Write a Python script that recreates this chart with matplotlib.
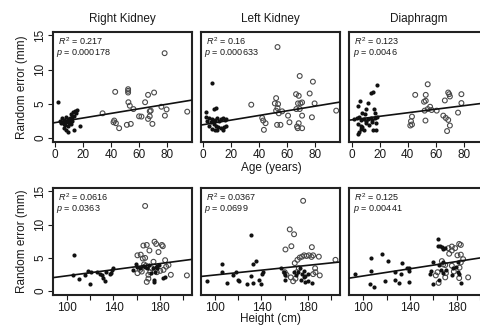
import matplotlib
matplotlib.use("Agg")
import matplotlib.pyplot as plt
import numpy as np

plt.rcParams['font.family'] = ['Liberation Sans', 'DejaVu Sans']
plt.rcParams['mathtext.fontset'] = 'custom'
plt.rcParams['mathtext.it'] = 'Liberation Sans:italic'
plt.rcParams['mathtext.rm'] = 'Liberation Sans'

titles = ["Right Kidney", "Left Kidney", "Diaphragm"]
r2_labels = ["0.217", "0.16", "0.123", "0.0616", "0.0367", "0.125"]
p_labels = ["0.000178", "0.000633", "0.0046", "0.0363", "0.0699", "0.00441"]
line_intercepts = [2.24, 1.93, 2.64, -0.01, 0.59, -0.43]
line_slopes = [0.0338, 0.034, 0.026, 0.023, 0.0182, 0.0270]

# ---- Age panels: children (filled) and adults (open) ----
rk_age_child = [2.4, 3.8, 5.0, 5.7, 6.6, 7.1, 7.8, 8.5, 9.0, 9.5, 10.2, 10.9, 11.3, 12.1, 12.5,
                13.7, 14.2, 14.9, 15.6, 9.0, 13.7, 18.0, 6.1, 7.6, 4.5, 6.0, 8.0, 10.0, 11.0, 12.0]
rk_err_child = [5.2, 2.54, 2.92, 2.29, 2.63, 1.96, 3.12, 2.44, 1.67, 2.78, 2.15, 2.92, 3.5, 2.54, 3.74,
                3.26, 3.99, 3.6, 4.1, 0.85, 1.09, 1.81, 1.47, 1.09, 2.2, 2.0, 2.3, 2.5, 2.0, 3.0]
rk_age_adult = [33.8, 42.8, 42.1, 41.6, 43.3, 45.6, 52.0, 52.0, 52.0, 52.2, 53.2, 51.1, 53.9, 59.8, 61.5,
                55.8, 64.1, 66.2, 70.5, 67.4, 68.1, 66.2, 67.4, 69.3, 75.7, 79.4, 78.2, 78.0, 94.1]
rk_err_adult = [3.6, 6.74, 2.54, 2.29, 2.15, 1.42, 7.13, 6.89, 6.64, 5.22, 4.71, 1.91, 2.05, 3.16, 3.12,
                4.22, 5.22, 6.3, 6.64, 3.89, 3.99, 2.78, 3.16, 2.05, 4.56, 4.17, 3.26, 12.4, 3.84]

lk_age_child = [6.6, 2.4, 7.8, 9.5, 1.9, 4.3, 6.1, 7.1, 8.5, 10.2, 11.3, 12.5, 14.2, 15.6, 16.5, 5.4,
                7.8, 9.0, 10.9, 12.5, 14.9, 16.5, 6.6, 8.5, 10.2, 14.2, 4.3, 3.1]
lk_err_child = [8.1, 3.74, 4.22, 4.37, 3.12, 2.92, 2.78, 2.54, 2.63, 2.92, 2.54, 2.78, 2.92, 2.63, 2.78, 2.29,
                2.05, 1.81, 1.57, 1.47, 1.57, 1.81, 1.33, 1.09, 1.18, 1.18, 1.81, 2.54]
lk_age_adult = [53.0, 34.3, 42.1, 42.8, 44.5, 43.3, 52.0, 53.0, 53.4, 52.0, 51.1, 53.9, 52.7, 55.1, 56.3,
                60.5, 61.5, 66.2, 68.1, 68.8, 67.6, 66.4, 69.3, 70.5, 68.1, 66.9, 67.4, 70.5, 70.5,
                68.8, 75.9, 78.2, 79.4, 77.5, 94.8]
lk_err_adult = [13.3, 4.86, 2.92, 2.54, 2.15, 1.18, 3.99, 4.37, 4.95, 5.82, 5.05, 3.6, 1.91, 1.91, 3.89,
                3.26, 2.29, 6.4, 6.16, 9.06, 5.05, 4.22, 5.05, 5.19, 2.15, 1.67, 1.42, 1.42, 3.26,
                4.22, 6.5, 8.23, 5.05, 3.02, 3.99]

di_age_child = [17.8, 13.6, 15.5, 6.1, 4.2, 11.7, 10.1, 7.7, 9.4, 16.0, 16.4, 1.9, 3.8, 5.4, 7.0, 8.5,
                10.1, 11.7, 13.6, 14.8, 16.4, 17.8, 4.2, 6.6, 10.1, 12.5, 14.8, 17.1, 6.6, 7.7, 5.4,
                9.0, 15.5, 17.1, 4.2]
di_err_child = [7.7, 6.64, 6.74, 5.43, 4.71, 5.05, 4.22, 3.6, 3.5, 4.22, 3.6, 2.78, 2.92, 3.12, 2.63, 2.78,
                2.54, 2.78, 2.92, 2.63, 2.92, 3.12, 2.05, 1.81, 2.15, 1.96, 2.29, 2.15, 1.33, 1.57, 0.85,
                1.09, 1.09, 1.09, 0.61]
di_age_adult = [54.2, 45.3, 52.8, 52.8, 51.6, 43.0, 42.3, 41.8, 43.0, 52.6, 52.0, 54.2, 55.9, 57.0, 60.6,
                66.4, 68.8, 70.0, 69.5, 78.2, 78.2, 75.8, 65.3, 67.1, 68.8, 70.0, 68.0]
di_err_adult = [7.85, 6.3, 6.3, 5.43, 5.29, 3.12, 2.44, 1.81, 1.96, 2.54, 3.99, 4.22, 4.56, 4.08, 3.99,
                5.48, 6.64, 6.06, 6.4, 6.4, 5.1, 3.7, 3.26, 2.92, 2.63, 1.81, 1.0]

# ---- Height panels ----
rk_ht_child = [106.3, 105.1, 110.0, 115.7, 117.7, 120.6, 120.0, 125.7, 128.0, 130.0, 131.4, 132.3, 133.7,
               136.6, 137.8, 139.5, 138.6, 157.2, 159.5, 160.6, 162.9, 165.2, 167.2, 168.6, 170.9,
               172.1, 174.4, 175.8, 176.7, 177.8, 178.7, 177.3, 182.9, 184.4, 175.0, 175.0]
rk_herr_child = [5.37, 2.35, 1.86, 2.44, 3.03, 2.83, 1.08, 2.83, 2.54, 2.35, 1.95, 1.47, 2.83,
                 2.54, 2.69, 3.52, 3.18, 3.18, 4.0, 3.66, 3.42, 3.81, 3.66, 3.42, 3.91,
                 2.69, 3.52, 2.83, 3.66, 3.81, 3.91, 3.42, 1.95, 2.05, 1.37, 1.71]
rk_ht_adult = [167.2, 165.7, 168.6, 163.4, 160.6, 175.3, 176.7, 181.6, 182.4, 178.7, 170.9, 165.2, 184.4,
               185.3, 189.3, 203.1, 160.6, 162.9, 164.3, 170.0, 171.5, 168.0, 166.3, 172.9, 177.3,
               180.2, 183.0, 174.4, 168.6, 170.0, 187.3, 167.2]
rk_herr_adult = [12.8, 6.84, 6.93, 5.47, 5.37, 7.42, 7.08, 6.93, 6.74, 5.86, 6.1, 4.89, 4.64,
                 3.66, 2.44, 2.35, 2.69, 3.18, 2.93, 2.44, 2.83, 3.81, 4.0, 3.42, 2.83,
                 3.03, 3.18, 4.4, 1.37, 1.86, 3.91, 4.98]

lk_ht_child = [92.8, 106.3, 105.7, 110.0, 115.7, 117.7, 119.4, 120.6, 127.4, 131.1, 133.1, 133.1, 135.1,
               137.8, 139.5, 140.1, 141.5, 130.6, 156.6, 159.5, 160.6, 160.6, 168.0, 170.0, 171.5,
               174.4, 175.0, 176.7, 177.3, 177.8, 179.6, 180.2, 183.0, 172.9, 176.7]
lk_herr_child = [1.47, 4.0, 2.93, 1.2, 2.35, 2.83, 1.71, 1.47, 1.08, 2.2, 1.2, 4.0, 4.5,
                 1.71, 1.08, 2.54, 2.83, 8.4, 3.52, 2.83, 2.44, 1.71, 2.83, 2.35, 2.83,
                 1.71, 2.54, 2.05, 1.37, 2.2, 1.47, 2.54, 1.2, 3.52, 3.03]
lk_ht_adult = [175.8, 164.3, 168.0, 165.7, 160.6, 183.3, 168.6, 170.9, 172.9, 174.9, 176.7, 178.7, 180.7,
               183.0, 184.4, 189.3, 203.6, 160.0, 161.5, 165.2, 167.2, 169.2, 170.4, 172.1, 186.1,
               184.4, 190.1, 186.4]
lk_herr_adult = [13.57, 9.27, 8.54, 6.74, 6.25, 6.6, 4.2, 4.69, 5.03, 5.17, 5.37, 5.27, 5.37,
                 5.13, 5.37, 5.17, 4.69, 2.83, 2.44, 2.05, 1.47, 1.86, 2.83, 3.42, 3.42,
                 2.54, 2.35, 2.83]

di_ht_child = [93.0, 106.5, 106.5, 105.6, 109.3, 115.9, 120.8, 118.8, 127.3, 130.2, 127.3, 133.0, 132.1,
               137.2, 139.3, 138.8, 139.3, 157.1, 158.0, 160.0, 160.0, 163.7, 163.7, 165.7, 167.4,
               168.6, 170.3, 164.6, 166.6, 168.0, 168.6, 176.0, 177.1, 179.4, 181.7, 182.3, 183.7,
               181.7, 165.1, 170.9]
di_herr_child = [2.54, 3.03, 4.98, 1.08, 0.59, 5.61, 4.5, 1.47, 1.71, 1.22, 2.83, 4.15, 2.54,
                 3.52, 3.03, 3.42, 1.37, 2.54, 3.03, 1.08, 4.3, 7.81, 6.84, 6.74, 6.59,
                 6.35, 6.45, 3.91, 3.18, 2.69, 4.3, 2.35, 3.42, 3.66, 2.83, 2.54, 1.22,
                 4.3, 1.71, 3.18]
di_ht_adult = [173.1, 176.0, 178.8, 182.3, 183.7, 173.7, 176.0, 180.8, 183.7, 185.7, 167.4, 168.6, 170.3,
               170.9, 163.7, 162.2, 164.6, 170.3, 176.0, 177.7, 182.6, 182.3, 183.7, 190.0]
di_herr_adult = [6.45, 6.69, 6.45, 7.08, 6.93, 5.61, 6.1, 5.37, 5.47, 4.79, 4.5, 4.0, 3.91,
                 2.69, 2.83, 2.35, 1.22, 2.05, 3.81, 2.93, 3.52, 1.95, 4.3, 2.05]

panels = [
    (rk_age_child, rk_err_child, rk_age_adult, rk_err_adult),
    (lk_age_child, lk_err_child, lk_age_adult, lk_err_adult),
    (di_age_child, di_err_child, di_age_adult, di_err_adult),
    (rk_ht_child, rk_herr_child, rk_ht_adult, rk_herr_adult),
    (lk_ht_child, lk_herr_child, lk_ht_adult, lk_herr_adult),
    (di_ht_child, di_herr_child, di_ht_adult, di_herr_adult),
]

W, H = 481, 326
fig = plt.figure(figsize=(W / 100, H / 100), dpi=100)
fig.patch.set_facecolor('white')

lefts = [53, 201, 349.5]
pw = 139
rows = [(32, 142), (188, 295)]

ink = '#1a1a1a'
for i in range(6):
    r, c = divmod(i, 3)
    top, bot = rows[r]
    ax = fig.add_axes([lefts[c] / W, 1 - bot / H, pw / W, (bot - top) / H])
    xc, yc, xa, ya = panels[i]
    ax.scatter(xa, ya, s=12, facecolors='none', edgecolors='#4a4a4a', linewidths=0.8, zorder=3)
    ax.scatter(xc, yc, s=9, color='#111111', linewidths=0, zorder=4)
    ax.axline((0, line_intercepts[i]), slope=line_slopes[i], color='#111111', lw=1.2, zorder=5)
    if r == 0:
        ax.set_xlim(-1.5, 97.5)
        ax.set_xticks([0, 20, 40, 60, 80])
        ax.set_xticklabels(['0', '20', '40', '60', '80'])
        ax.set_title(titles[c], fontsize=8.5, color=ink, pad=7)
    else:
        ax.set_xlim(88, 207.5)
        ax.set_xticks([100, 120, 140, 160, 180, 200])
        ax.set_xticklabels(['100', '', '140', '', '180', ''])
    ax.set_ylim(-0.6, 15.5)
    if c == 0:
        ax.set_yticks([0, 5, 10, 15])
        ax.set_yticklabels(['0', '5', '10', '15'], rotation=90, va='center')
        ax.set_ylabel('Random error (mm)', fontsize=8.5, color=ink, labelpad=4)
    else:
        ax.set_yticks([])
    ax.tick_params(direction='out', length=3.5, width=0.8, labelsize=8.5, colors=ink, pad=1.5)
    for s in ax.spines.values():
        s.set_linewidth(1.5)
        s.set_color('#222222')
    ax.annotate(r'$\mathit{R}^2$' + ' = ' + r2_labels[i], xy=(0, 1), xycoords='axes fraction',
                xytext=(3.4, -2.2), textcoords='offset points',
                fontsize=6.5, color=ink, va='top', ha='left')
    ax.annotate(r'$\mathit{p}$' + ' = ' + p_labels[i], xy=(0, 1), xycoords='axes fraction',
                xytext=(2.2, -10.6), textcoords='offset points',
                fontsize=6.5, color=ink, va='top', ha='left')

fig.text(271 / W, 1 - 167.5 / H, 'Age (years)', fontsize=8.5, color=ink, ha='center', va='center')
fig.text(271 / W, 1 - 319 / H, 'Height (cm)', fontsize=8.5, color=ink, ha='center', va='center')

fig.savefig('out.png', dpi=100)
